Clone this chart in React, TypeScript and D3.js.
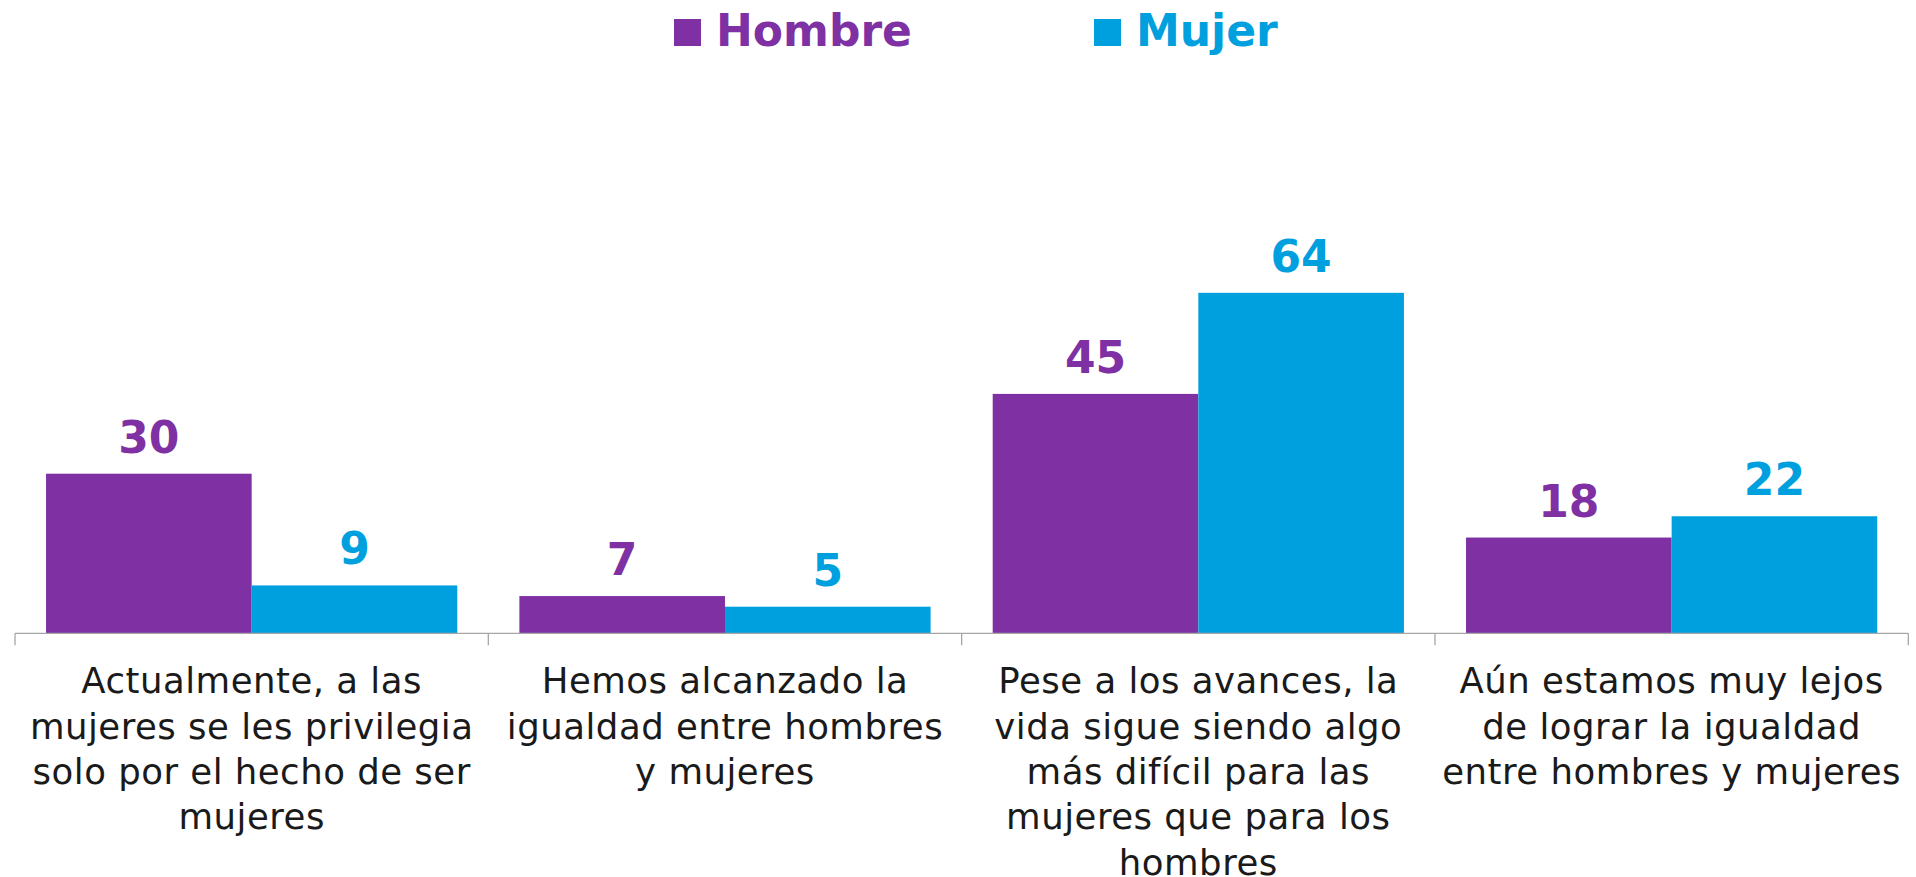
import React from "react";
import * as d3 from "d3";

const categories: string[][] = [
  ["Actualmente, a las", "mujeres se les privilegia", "solo por el hecho de ser", "mujeres"],
  ["Hemos alcanzado la", "igualdad entre hombres", "y mujeres"],
  ["Pese a los avances, la", "vida sigue siendo algo", "más difícil para las", "mujeres que para los", "hombres"],
  ["Aún estamos muy lejos", "de lograr la igualdad", "entre hombres y mujeres"],
];
const seriesNames = ["Hombre", "Mujer"];
const hombre = [30, 7, 45, 18];
const mujer = [9, 5, 64, 22];
const colors = ["#7F31A4", "#00A0DF"];

const W = 1916;
const H = 877;

export default function App() {
  const catKeys = categories.map((c) => c.join(" "));
  const x0 = d3.scaleBand<string>().domain(catKeys).range([15, 1908.3]).paddingInner(0).paddingOuter(0);
  const x1 = d3.scaleBand<string>().domain(seriesNames).range([0, x0.bandwidth()]).paddingInner(0).paddingOuter(0.151);
  const y = d3.scaleLinear().domain([0, 100]).range([633.3, 101.3]);
  const series = [hombre, mujer];
  const axisY = y(0);
  const boundaries = d3.range(catKeys.length + 1).map((i) => x0.range()[0] + i * x0.step());

  return (
    <svg width={W} height={H} style={{ position: "absolute", left: 0, top: 0, background: "#fff" }}>
      {/* Legend */}
      {seriesNames.map((s, i) => {
        const lx = i === 0 ? 674 : 1094;
        return (
          <g key={s}>
            <rect x={lx} y={19} width={27} height={27} fill={colors[i]} />
            <text x={lx + 42} y={45.7} fill={colors[i]} fontFamily="DejaVu Sans" fontWeight="bold" fontSize={44}>
              {s}
            </text>
          </g>
        );
      })}
      {/* Bars */}
      {catKeys.map((c, ci) => (
        <g key={c} transform={`translate(${x0(c)},0)`}>
          {series.map((vals, si) => {
            const bx = x1(seriesNames[si])!;
            const top = y(vals[ci]);
            return (
              <g key={si}>
                <rect x={bx} y={top} width={x1.bandwidth()} height={axisY - top} fill={colors[si]} />
                <text
                  x={bx + x1.bandwidth() / 2}
                  y={top - 21}
                  textAnchor="middle"
                  fill={colors[si]}
                  fontFamily="DejaVu Sans"
                  fontWeight="bold"
                  fontSize={44}
                >
                  {vals[ci]}
                </text>
              </g>
            );
          })}
        </g>
      ))}
      {/* Axis */}
      <line x1={boundaries[0]} x2={boundaries[boundaries.length - 1]} y1={axisY} y2={axisY} stroke="#A6A6A6" strokeWidth={1.3} />
      {boundaries.map((bx, i) => (
        <line key={i} x1={bx} x2={bx} y1={axisY} y2={axisY + 12} stroke="#A6A6A6" strokeWidth={1.3} />
      ))}
      {/* Category labels */}
      {categories.map((lines, ci) => (
        <text
          key={ci}
          x={x0(catKeys[ci])! + x0.bandwidth() / 2}
          textAnchor="middle"
          fill="#1a1a1a"
          fontFamily="DejaVu Sans"
          fontSize={35.5}
          letterSpacing={0.5}
        >
          {lines.map((l, li) => (
            <tspan key={li} x={x0(catKeys[ci])! + x0.bandwidth() / 2} y={693.3 + li * 45.3}>
              {l}
            </tspan>
          ))}
        </text>
      ))}
    </svg>
  );
}
